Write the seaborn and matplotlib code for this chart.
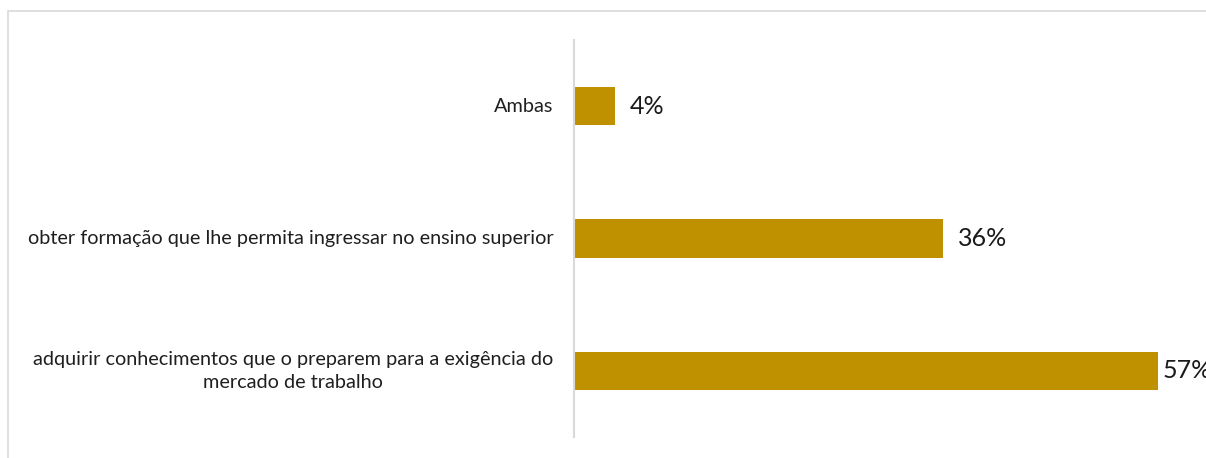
"""Horizontal bar chart: objetivo principal ao frequentar o curso."""

import matplotlib.pyplot as plt
import seaborn as sns
from matplotlib.patches import Rectangle

categories = [
    "Ambas",
    "obter formação que lhe permita ingressar no ensino superior",
    "adquirir conhecimentos que o preparem para a exigência do\nmercado de trabalho",
]
values = [4, 36, 57]
value_labels = ["4%", "36%", "57%"]

BAR_COLOR = "#BF9000"
GRID_GRAY = "#D9D9D9"
PX = 10.25  # pixels per percentage point

sns.set_theme(style="white")
plt.rcParams["font.family"] = ["Lato", "DejaVu Sans"]

fig = plt.figure(figsize=(12.06, 4.58), dpi=100)
ax = fig.add_axes([573.5 / 1206, 21 / 458, (1206 - 573.5) / 1206, 397 / 458])

sns.barplot(x=values, y=categories, color=BAR_COLOR, width=0.29,
            linewidth=0, saturation=1, orient="h", ax=ax)

ax.set_xlim(0, (1206 - 573.5) / PX)
ax.set_ylim(2.5, -0.5)
ax.set_xticks([])
ax.set_yticks([])
ax.set_xlabel("")
ax.set_ylabel("")
for side in ["top", "right", "bottom"]:
    ax.spines[side].set_visible(False)
ax.spines["left"].set_color(GRID_GRAY)
ax.spines["left"].set_linewidth(1.5)

# category labels, right aligned, wrapped one centred within its block
for i, cat in enumerate(categories):
    ax.text(-20 / PX, i, cat, ha="right", va="center", multialignment="center",
            fontsize=14.3, color="#1f1f1f", linespacing=1.4)

pads = [15, 15, 5]
for i, (v, lab) in enumerate(zip(values, value_labels)):
    ax.annotate(lab, (v, i), xytext=(pads[i] * 0.72, 0), textcoords="offset points",
                ha="left", va="center", fontsize=18, color="#1a1a1a", annotation_clip=False)

fig.patches.append(Rectangle((8 / 1206, -0.2), 1.2, (458 - 11) / 458 + 0.2,
                             transform=fig.transFigure, fill=False,
                             edgecolor=GRID_GRAY, linewidth=1.2))

fig.savefig("out.png", dpi=100)
